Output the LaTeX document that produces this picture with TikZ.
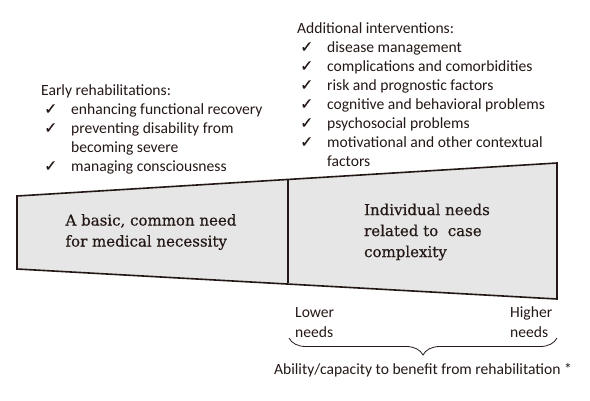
\documentclass[tikz,border=0pt]{standalone}
\usepackage{fontspec}
\setmainfont{Carlito}
\newfontfamily\boxfont[FakeBold=0.5]{DejaVu Serif}
\newfontfamily\symfont[FakeBold=0.6]{DejaVu Sans}
\usetikzlibrary{decorations.pathreplacing}
\definecolor{ink}{RGB}{35,24,21}
\definecolor{boxgray}{RGB}{230,230,230}
\newcommand{\chk}{{\symfont\fontsize{15.5}{15.5}\selectfont\char"2713}}
\newcommand{\itm}[1]{\makebox[30pt][l]{\hspace{3pt}\chk}#1}
\newcommand{\cont}[1]{\hspace*{30pt}#1}
\tikzset{
  listtext/.style={anchor=north west, inner sep=0pt, align=left, text=ink,
    font=\fontsize{15.6}{19}\selectfont},
  needtext/.style={inner sep=0pt, align=left, text=ink,
    font=\boxfont\fontsize{15}{21}\selectfont},
  sidetext/.style={inner sep=0pt, align=left, text=ink,
    font=\fontsize{15.6}{20}\selectfont},
  outline/.style={draw=ink, line width=1.6pt, line join=miter}
}
\begin{document}
\begin{tikzpicture}[x=1pt,y=-1pt]
   		\useasboundingbox (0,0) rectangle (590,400);
   		
   		% Trapezoid split in two parts
   		\coordinate (tl) at (17,196);
   		\coordinate (bl) at (17,269);
   		\coordinate (tm) at (288,180);
   		\coordinate (bm) at (288,283);
   		\coordinate (tr) at (557,163);
   		\coordinate (br) at (557,299);
   		\fill[boxgray] (tl) -- (tr) -- (br) -- (bl) -- cycle;
   		\draw[outline] (tl) -- (tr) -- (br) -- (bl) -- cycle;
   		\draw[outline] (tm) -- (bm);
   		
   		% Texts inside the parts
   		\node[needtext] (basic) at (151,232) {A basic, common need\\for medical necessity};
   		\node[needtext] (indiv) at (427,232) {Individual needs\\related to\ \ case\\complexity};
   		
   		% Lists above
   		\node[listtext] (early) at (41,84) {Early rehabilitations:\\
   			\itm{enhancing functional recovery}\\
   			\itm{preventing disability from}\\
   			\cont{becoming severe}\\
   			\itm{managing consciousness}};
   		\node[listtext] (addit) at (297,22) {Additional interventions:\\
   			\itm{disease management}\\
   			\itm{complications and comorbidities}\\
   			\itm{risk and prognostic factors}\\
   			\itm{cognitive and behavioral problems}\\
   			\itm{psychosocial problems}\\
   			\itm{motivational and other contextual}\\
   			\cont{factors}};
   		
   		% Needs scale below
   		\node[sidetext, anchor=west] (lower) at (295,323) {Lower\\needs};
   		\node[sidetext, anchor=west] (higher) at (510,322) {Higher\\needs};
   		\coordinate (bracel) at (289,338);
   		\coordinate (bracer) at (557,338);
   		\draw[ink, line width=0.8pt, decorate, decoration={brace, mirror, amplitude=17pt}] (bracel) -- (bracer);
   		\node[sidetext, anchor=center] (ability) at (423,370) {Ability/capacity to benefit from rehabilitation *};
   		
   	\end{tikzpicture}
\end{document}
